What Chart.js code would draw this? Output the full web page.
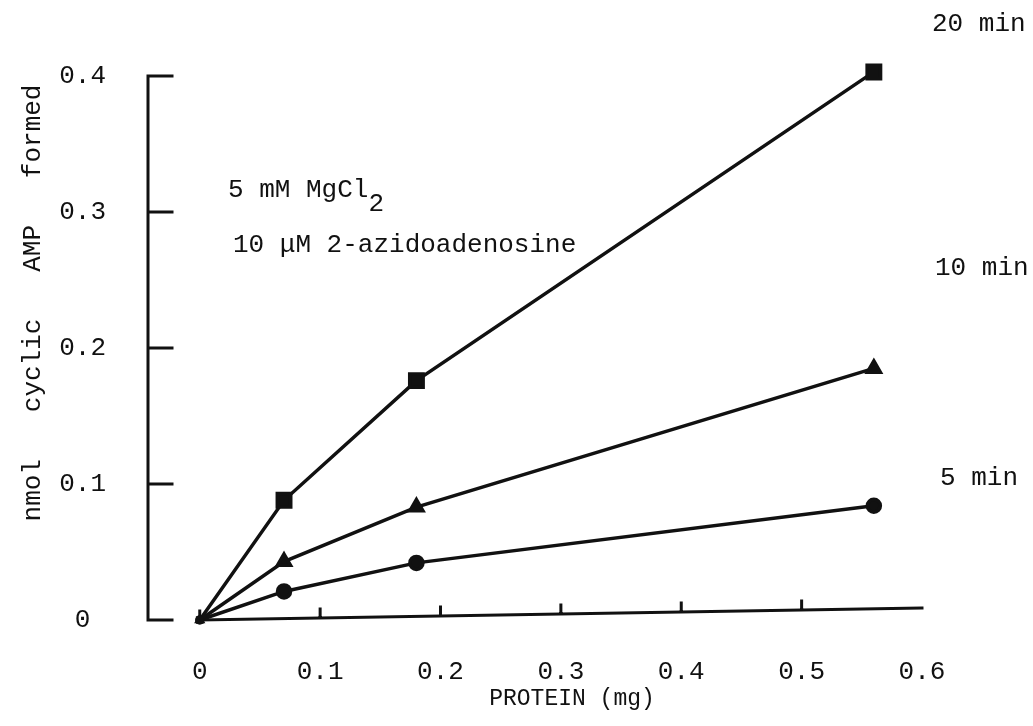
<!DOCTYPE html>
<html>
<head>
<meta charset="utf-8">
<title>Cyclic AMP formed vs protein</title>
<script src="https://cdn.jsdelivr.net/npm/chart.js@4.4.1/dist/chart.umd.min.js"></script>
<style>
  html, body { margin: 0; padding: 0; background: #fff; }
  #wrap { width: 1033px; height: 726px; }
</style>
</head>
<body>
<div id="wrap"><canvas id="cyclaseChart" width="1033" height="726"></canvas></div>
<script>
// values
const proteinMg = [0, 0.07, 0.18, 0.56];
const amp20min = [0, 0.088, 0.176, 0.403];
const amp10min = [0, 0.043, 0.083, 0.185];
const amp5min = [0, 0.021, 0.042, 0.084];
const xTicks = [0, 0.1, 0.2, 0.3, 0.4, 0.5, 0.6];
const yTicks = [0, 0.1, 0.2, 0.3, 0.4];
const seriesLabels = ["20 min", "10 min", "5 min"];

const FONT = '"Liberation Mono", "Courier New", monospace';
const INK = "#111";

function toPoints(ys) {
  return proteinMg.map((x, i) => ({ x: x, y: ys[i] }));
}

function tickText(value) {
  return value === 0 ? "0" : value.toFixed(1);
}

// axes are drawn by hand: bracket style y axis, x axis with small upward ticks
const paperAxes = {
  id: "paperAxes",
  beforeDatasetsDraw(chart) {
    const { ctx, chartArea, scales: { x, y } } = chart;
    ctx.save();
    ctx.strokeStyle = INK;
    ctx.lineWidth = 3;
    ctx.lineCap = "square";

    const left = chartArea.left;
    ctx.beginPath();
    ctx.moveTo(left, y.getPixelForValue(0));
    ctx.lineTo(left, y.getPixelForValue(0.4));
    yTicks.forEach((v) => {
      const py = y.getPixelForValue(v);
      ctx.moveTo(left, py);
      ctx.lineTo(left + 24, py);
    });
    ctx.stroke();

    // the scanned axis rises a little to the right
    const x0 = x.getPixelForValue(0);
    const x1 = x.getPixelForValue(0.6);
    const y0 = y.getPixelForValue(0);
    const tilt = 12 / (x1 - x0);
    ctx.beginPath();
    ctx.moveTo(x0, y0);
    ctx.lineTo(x1, y0 - tilt * (x1 - x0));
    xTicks.slice(0, -1).forEach((v) => {
      const px = x.getPixelForValue(v);
      const py = y0 - tilt * (px - x0);
      ctx.moveTo(px, py);
      ctx.lineTo(px, py - 9);
    });
    ctx.stroke();
    ctx.restore();
  },
  afterDraw(chart) {
    const ctx = chart.ctx;
    ctx.save();
    ctx.fillStyle = INK;
    ctx.font = "26px " + FONT;
    ctx.textBaseline = "middle";
    ctx.textAlign = "left";

    ctx.fillText(seriesLabels[0], 932, 24);
    ctx.fillText(seriesLabels[1], 935, 268);
    ctx.fillText(seriesLabels[2], 940, 478);

    const mg = "5 mM MgCl";
    ctx.fillText(mg, 228, 190);
    ctx.fillText("2", 228 + ctx.measureText(mg).width, 204);
    ctx.fillText("10 μM 2-azidoadenosine", 233, 245);

    // axis titles
    ctx.textAlign = "center";
    ctx.font = "23px " + FONT;
    ctx.fillText("PROTEIN (mg)", 572, 699);

    ctx.font = "26px " + FONT;
    ctx.translate(33, 303);
    ctx.rotate(-Math.PI / 2);
    ctx.fillText("nmol   cyclic   AMP   formed", 0, 0);
    ctx.restore();
  },
};

function series(label, ys, shape, size) {
  return {
    label: label,
    data: toPoints(ys),
    showLine: true,
    borderColor: INK,
    borderWidth: 3.5,
    backgroundColor: INK,
    pointBackgroundColor: INK,
    pointBorderColor: INK,
    pointStyle: shape,
    pointRadius: ys.map((v, i) => (i === 0 ? 3 : size)),
    tension: 0,
    clip: false,
  };
}

const ctx = document.getElementById("cyclaseChart").getContext("2d");
const chart = new Chart(ctx, {
  type: "scatter",
  data: {
    datasets: [
      series(seriesLabels[0], amp20min, "rect", 9.5),
      series(seriesLabels[1], amp10min, "triangle", 7.5),
      series(seriesLabels[2], amp5min, "circle", 6.5),
    ],
  },
  options: {
    responsive: false,
    animation: false,
    devicePixelRatio: 1,
    layout: {
      padding: { left: 10, top: 76, right: 111, bottom: 0 },
    },
    plugins: {
      legend: { display: false },
      tooltip: { enabled: false },
    },
    scales: {
      x: {
        type: "linear",
        min: -0.043,
        max: 0.6,
        afterBuildTicks: (axis) => {
          axis.ticks = xTicks.map((v) => ({ value: v }));
        },
        afterFit: (axis) => {
          axis.height = 106;
        },
        grid: { display: false, drawTicks: false },
        border: { display: false },
        ticks: {
          color: INK,
          font: { family: FONT, size: 26 },
          padding: 37,
          maxRotation: 0,
          autoSkip: false,
          callback: tickText,
        },
      },
      y: {
        type: "linear",
        min: 0,
        max: 0.4,
        afterBuildTicks: (axis) => {
          axis.ticks = yTicks.map((v) => ({ value: v }));
        },
        afterFit: (axis) => {
          axis.width = 138;
        },
        grid: { display: false, drawTicks: false },
        border: { display: false },
        ticks: {
          color: INK,
          font: { family: FONT, size: 26 },
          padding: 42,
          crossAlign: "center",
          callback: tickText,
        },
      },
    },
  },
  plugins: [paperAxes],
});
</script>
</body>
</html>
